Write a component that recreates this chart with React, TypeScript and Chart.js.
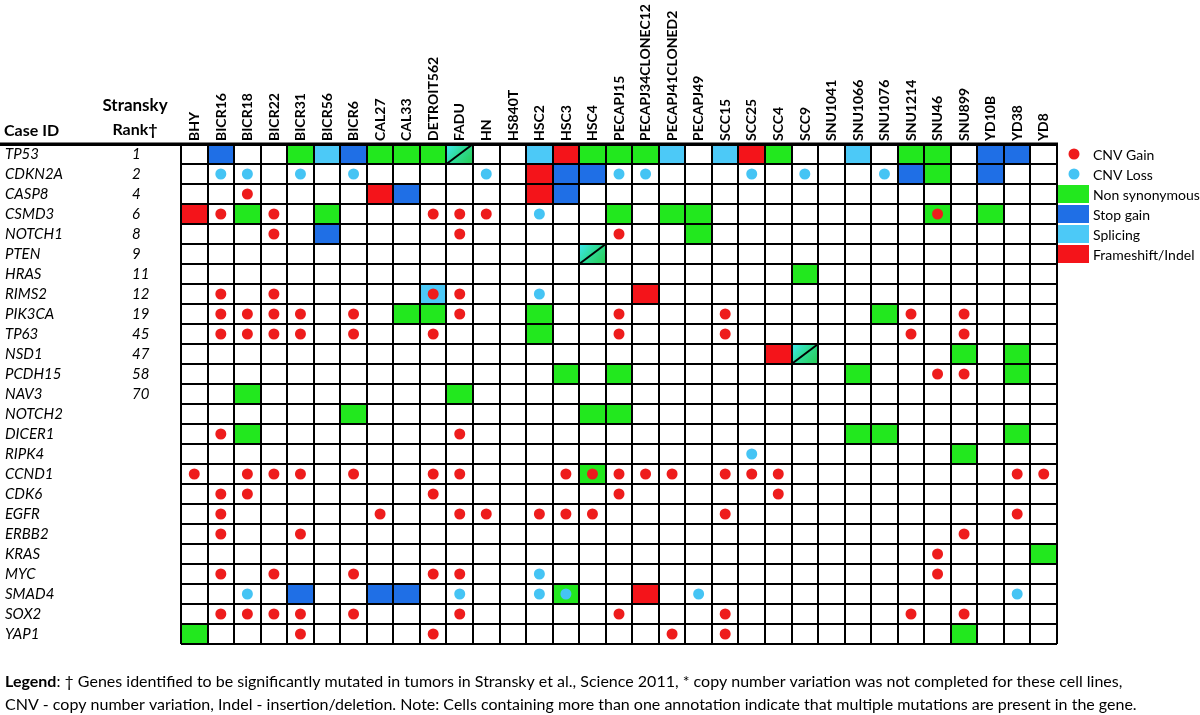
import React, { useEffect, useRef } from 'react';
import { Chart, registerables } from 'chart.js';

Chart.register(...registerables);

// ---------- data ----------
const cellLines = [
  'BHY', 'BICR16', 'BICR18', 'BICR22', 'BICR31', 'BICR56', 'BICR6', 'CAL27', 'CAL33', 'DETROIT562',
  'FADU', 'HN', 'HS840T', 'HSC2', 'HSC3', 'HSC4', 'PECAPJ15', 'PECAPJ34CLONEC12', 'PECAPJ41CLONED2',
  'PECAPJ49', 'SCC15', 'SCC25', 'SCC4', 'SCC9', 'SNU1041', 'SNU1066', 'SNU1076', 'SNU1214', 'SNU46',
  'SNU899', 'YD10B', 'YD38', 'YD8',
];

const genes = [
  'TP53', 'CDKN2A', 'CASP8', 'CSMD3', 'NOTCH1', 'PTEN', 'HRAS', 'RIMS2', 'PIK3CA', 'TP63', 'NSD1',
  'PCDH15', 'NAV3', 'NOTCH2', 'DICER1', 'RIPK4', 'CCND1', 'CDK6', 'EGFR', 'ERBB2', 'KRAS', 'MYC',
  'SMAD4', 'SOX2', 'YAP1',
];

const stranskyRanks = [
  '1', '2', '4', '6', '8', '9', '11', '12', '19', '45', '47', '58', '70',
  '', '', '', '', '', '', '', '', '', '', '', '',
];

type Group = [string, string[]];

const nonSynonymous: Group[] = [
  ['TP53', ['BICR31', 'CAL27', 'CAL33', 'DETROIT562', 'HSC4', 'PECAPJ15', 'PECAPJ34CLONEC12', 'SCC4', 'SNU1214', 'SNU46']],
  ['CDKN2A', ['SNU46']],
  ['CSMD3', ['BICR18', 'BICR56', 'PECAPJ15', 'PECAPJ41CLONED2', 'PECAPJ49', 'SNU46', 'YD10B']],
  ['NOTCH1', ['PECAPJ49']],
  ['HRAS', ['SCC9']],
  ['PIK3CA', ['CAL33', 'DETROIT562', 'HSC2', 'SNU1076']],
  ['TP63', ['HSC2']],
  ['NSD1', ['SNU899', 'YD38']],
  ['PCDH15', ['HSC3', 'PECAPJ15', 'SNU1066', 'YD38']],
  ['NAV3', ['BICR18', 'FADU']],
  ['NOTCH2', ['BICR6', 'HSC4', 'PECAPJ15']],
  ['DICER1', ['BICR18', 'SNU1066', 'SNU1076', 'YD38']],
  ['RIPK4', ['SNU899']],
  ['CCND1', ['HSC4']],
  ['KRAS', ['YD8']],
  ['SMAD4', ['HSC3']],
  ['YAP1', ['BHY', 'SNU899']],
];

const stopGain: Group[] = [
  ['TP53', ['BICR16', 'BICR6', 'YD10B', 'YD38']],
  ['CDKN2A', ['HSC3', 'HSC4', 'SNU1214', 'YD10B']],
  ['CASP8', ['CAL33', 'HSC3']],
  ['NOTCH1', ['BICR56']],
  ['SMAD4', ['BICR31', 'CAL27', 'CAL33']],
];

const splicing: Group[] = [
  ['TP53', ['BICR56', 'HSC2', 'PECAPJ41CLONED2', 'SCC15', 'SNU1066']],
  ['RIMS2', ['DETROIT562']],
];

const frameshiftIndel: Group[] = [
  ['TP53', ['HSC3', 'SCC25']],
  ['CDKN2A', ['HSC2']],
  ['CASP8', ['CAL27', 'HSC2']],
  ['CSMD3', ['BHY']],
  ['RIMS2', ['PECAPJ34CLONEC12']],
  ['NSD1', ['SCC4']],
  ['SMAD4', ['PECAPJ34CLONEC12']],
];

// cells holding both a splicing and a non synonymous mutation
const splicingAndNonSyn: Group[] = [
  ['TP53', ['FADU']],
  ['PTEN', ['HSC4']],
  ['NSD1', ['SCC9']],
];

const cnvGain: Group[] = [
  ['CASP8', ['BICR18']],
  ['CSMD3', ['BICR16', 'BICR22', 'DETROIT562', 'FADU', 'HN', 'SNU46']],
  ['NOTCH1', ['BICR22', 'FADU', 'PECAPJ15']],
  ['RIMS2', ['BICR16', 'BICR22', 'DETROIT562', 'FADU']],
  ['PIK3CA', ['BICR16', 'BICR18', 'BICR22', 'BICR31', 'BICR6', 'FADU', 'PECAPJ15', 'SCC15', 'SNU1214', 'SNU899']],
  ['TP63', ['BICR16', 'BICR18', 'BICR22', 'BICR31', 'BICR6', 'DETROIT562', 'PECAPJ15', 'SCC15', 'SNU1214', 'SNU899']],
  ['PCDH15', ['SNU46', 'SNU899']],
  ['DICER1', ['BICR16', 'FADU']],
  ['CCND1', ['BHY', 'BICR18', 'BICR22', 'BICR31', 'BICR6', 'DETROIT562', 'FADU', 'HSC3', 'HSC4', 'PECAPJ15', 'PECAPJ34CLONEC12', 'PECAPJ41CLONED2', 'SCC15', 'SCC25', 'SCC4', 'YD38', 'YD8']],
  ['CDK6', ['BICR16', 'BICR18', 'DETROIT562', 'PECAPJ15', 'SCC4']],
  ['EGFR', ['BICR16', 'CAL27', 'FADU', 'HN', 'HSC2', 'HSC3', 'HSC4', 'SCC15', 'YD38']],
  ['ERBB2', ['BICR16', 'BICR31', 'SNU899']],
  ['KRAS', ['SNU46']],
  ['MYC', ['BICR16', 'BICR22', 'BICR6', 'DETROIT562', 'FADU', 'SNU46']],
  ['SOX2', ['BICR16', 'BICR18', 'BICR22', 'BICR31', 'BICR6', 'FADU', 'PECAPJ15', 'SCC15', 'SNU1214', 'SNU899']],
  ['YAP1', ['BICR31', 'DETROIT562', 'PECAPJ41CLONED2', 'SCC15']],
];

const cnvLoss: Group[] = [
  ['CDKN2A', ['BICR16', 'BICR18', 'BICR31', 'BICR6', 'HN', 'PECAPJ15', 'PECAPJ34CLONEC12', 'SCC25', 'SCC9', 'SNU1076']],
  ['CSMD3', ['HSC2']],
  ['RIMS2', ['HSC2']],
  ['RIPK4', ['SCC25']],
  ['MYC', ['HSC2']],
  ['SMAD4', ['BICR18', 'FADU', 'HSC2', 'HSC3', 'PECAPJ49', 'YD38']],
];

const legendLabels = ['CNV Gain', 'CNV Loss', 'Non synonymous', 'Stop gain', 'Splicing', 'Frameshift/Indel'];

const footLine1Bold = 'Legend';
const footLine1 = ': \u2020 Genes identified to be significantly mutated in tumors in Stransky et al., Science 2011, * copy number variation was not completed for these cell lines,';
const footLine2 = 'CNV - copy number variation, Indel - insertion/deletion. Note: Cells containing more than one annotation indicate that multiple mutations are present in the gene.';

// ---------- styles ----------
const FONT = 'Lato, "Liberation Sans", sans-serif';
const C_GAIN = '#ee1c1c';
const C_LOSS = '#45c4f4';
const C_NONSYN = '#22e81e';
const C_STOP = '#1f6fe6';
const C_SPLICE = '#4cc9f7';
const C_FRAME = '#f4141a';

const flatten = (groups: Group[]) =>
  groups.flatMap(([g, lines]) => lines.map((c) => ({ x: c, y: g })));

const cellPlugin = {
  id: 'mutationCells',
  beforeDatasetsDraw(chart: any) {
    const { ctx, scales } = chart;
    const x = scales.x;
    const y = scales.y;
    const cw = Math.abs(x.getPixelForValue(1) - x.getPixelForValue(0));
    const rh = Math.abs(y.getPixelForValue(1) - y.getPixelForValue(0));
    const fill = (groups: Group[], color: string) => {
      groups.forEach(([g, lines]) => {
        lines.forEach((c) => {
          const px = x.getPixelForValue(cellLines.indexOf(c));
          const py = y.getPixelForValue(genes.indexOf(g));
          ctx.fillStyle = color;
          ctx.fillRect(px - cw / 2, py - rh / 2, cw, rh);
        });
      });
    };
    ctx.save();
    fill(nonSynonymous, C_NONSYN);
    fill(stopGain, C_STOP);
    fill(splicing, C_SPLICE);
    fill(frameshiftIndel, C_FRAME);
    splicingAndNonSyn.forEach(([g, lines]) => {
      lines.forEach((c) => {
        const px = x.getPixelForValue(cellLines.indexOf(c));
        const py = y.getPixelForValue(genes.indexOf(g));
        const grad = ctx.createLinearGradient(px - cw / 2, py - rh / 2, px + cw / 2, py + rh / 2);
        grad.addColorStop(0, '#3ee8f2');
        grad.addColorStop(0.45, '#2fdc9a');
        grad.addColorStop(1, '#27cc52');
        ctx.fillStyle = grad;
        ctx.fillRect(px - cw / 2, py - rh / 2, cw, rh);
      });
    });
    ctx.restore();
  },
  afterDraw(chart: any) {
    const { ctx, scales, chartArea } = chart;
    const x = scales.x;
    const y = scales.y;
    const cw = Math.abs(x.getPixelForValue(1) - x.getPixelForValue(0));
    const rh = Math.abs(y.getPixelForValue(1) - y.getPixelForValue(0));
    ctx.save();
    // diagonal separators in mixed cells
    ctx.strokeStyle = '#000';
    ctx.lineWidth = 2;
    splicingAndNonSyn.forEach(([g, lines]) => {
      lines.forEach((c) => {
        const px = x.getPixelForValue(cellLines.indexOf(c));
        const py = y.getPixelForValue(genes.indexOf(g));
        ctx.beginPath();
        ctx.moveTo(px - cw / 2, py + rh / 2);
        ctx.lineTo(px + cw / 2, py - rh / 2);
        ctx.stroke();
      });
    });
    // thick header rule
    ctx.fillStyle = '#000';
    ctx.fillRect(0, chartArea.top - 1.5, chartArea.right + 1, 3.5);

    // header texts
    ctx.fillStyle = '#000';
    ctx.textBaseline = 'middle';
    ctx.font = `bold 16px ${FONT}`;
    ctx.textAlign = 'left';
    ctx.fillText('Case ID', 4, 131);
    ctx.textAlign = 'center';
    ctx.font = `bold 17px ${FONT}`;
    ctx.fillText('Stransky', 135, 106);
    ctx.font = `bold 16px ${FONT}`;
    ctx.fillText('Rank\u2020', 135, 130);

    // legend
    const lx = chartArea.right + 1;
    ctx.textAlign = 'left';
    ctx.font = `14px ${FONT}`;
    legendLabels.forEach((label, i) => {
      const cy = y.getPixelForValue(i);
      if (i < 2) {
        ctx.fillStyle = i === 0 ? C_GAIN : C_LOSS;
        ctx.beginPath();
        ctx.arc(lx + 16, cy, 5.5, 0, Math.PI * 2);
        ctx.fill();
      } else {
        ctx.fillStyle = [C_NONSYN, C_STOP, C_SPLICE, C_FRAME][i - 2];
        ctx.fillRect(lx, cy - rh / 2 + 1, 31, rh - 2);
      }
      ctx.fillStyle = '#000';
      ctx.fillText(label, lx + 35, cy + 1);
    });

    // footnote
    ctx.font = `bold 16px ${FONT}`;
    ctx.fillText(footLine1Bold, 5, 682);
    const bw = ctx.measureText(footLine1Bold).width;
    ctx.font = `16px ${FONT}`;
    ctx.fillText(footLine1, 5 + bw, 682);
    ctx.fillText(footLine2, 5, 705);
    ctx.restore();
  },
};

export default function App() {
  const ref = useRef<HTMLCanvasElement>(null);
  useEffect(() => {
    if (!ref.current) return;
    const chart = new Chart(ref.current, {
      type: 'scatter',
      data: {
        datasets: [
          {
            label: 'CNV Gain',
            data: flatten(cnvGain) as any,
            pointRadius: 5.5,
            pointHoverRadius: 5.5,
            backgroundColor: C_GAIN,
            borderWidth: 0,
          },
          {
            label: 'CNV Loss',
            data: flatten(cnvLoss) as any,
            pointRadius: 5.5,
            pointHoverRadius: 5.5,
            backgroundColor: C_LOSS,
            borderWidth: 0,
          },
        ],
      },
      options: {
        animation: false,
        responsive: false,
        devicePixelRatio: 1,
        events: [],
        layout: { padding: { left: 5, top: 0, right: 143, bottom: 71 } },
        plugins: { legend: { display: false }, tooltip: { enabled: false } },
        scales: {
          x: {
            type: 'category',
            labels: cellLines,
            position: 'top',
            offset: true,
            grid: { offset: true, color: '#000', lineWidth: 2, drawTicks: false, z: 1 },
            border: { display: true, color: '#000', width: 2, z: 1 },
            ticks: {
              autoSkip: false,
              minRotation: 90,
              maxRotation: 90,
              padding: 3,
              labelOffset: 17,
              color: '#000',
              font: { family: FONT, size: 14, weight: 'bold' },
            },
            afterFit: (s: any) => {
              s.height = 144;
            },
          },
          y: {
            type: 'category',
            labels: genes,
            position: 'left',
            offset: true,
            weight: 2,
            grid: { offset: true, color: '#000', lineWidth: 2, drawTicks: false, z: 1 },
            border: { display: false },
            ticks: {
              autoSkip: false,
              crossAlign: 'far',
              color: '#000',
              font: { family: FONT, size: 15, style: 'italic' },
            },
            afterFit: (s: any) => {
              s.width = 127;
            },
          },
          yRank: {
            type: 'category',
            labels: stranskyRanks,
            position: 'left',
            offset: true,
            weight: 1,
            grid: { display: false, drawTicks: false },
            border: { display: false },
            ticks: {
              autoSkip: false,
              crossAlign: 'far',
              color: '#000',
              font: { family: FONT, size: 15, style: 'italic' },
            },
            afterFit: (s: any) => {
              s.width = 49;
            },
          },
        } as any,
      },
      plugins: [cellPlugin],
    });
    return () => chart.destroy();
  }, []);

  return (
    <div style={{ position: 'fixed', left: 0, top: 0, width: 1200, height: 715, background: '#fff' }}>
      <canvas ref={ref} width={1200} height={715} style={{ display: 'block' }} />
    </div>
  );
}
